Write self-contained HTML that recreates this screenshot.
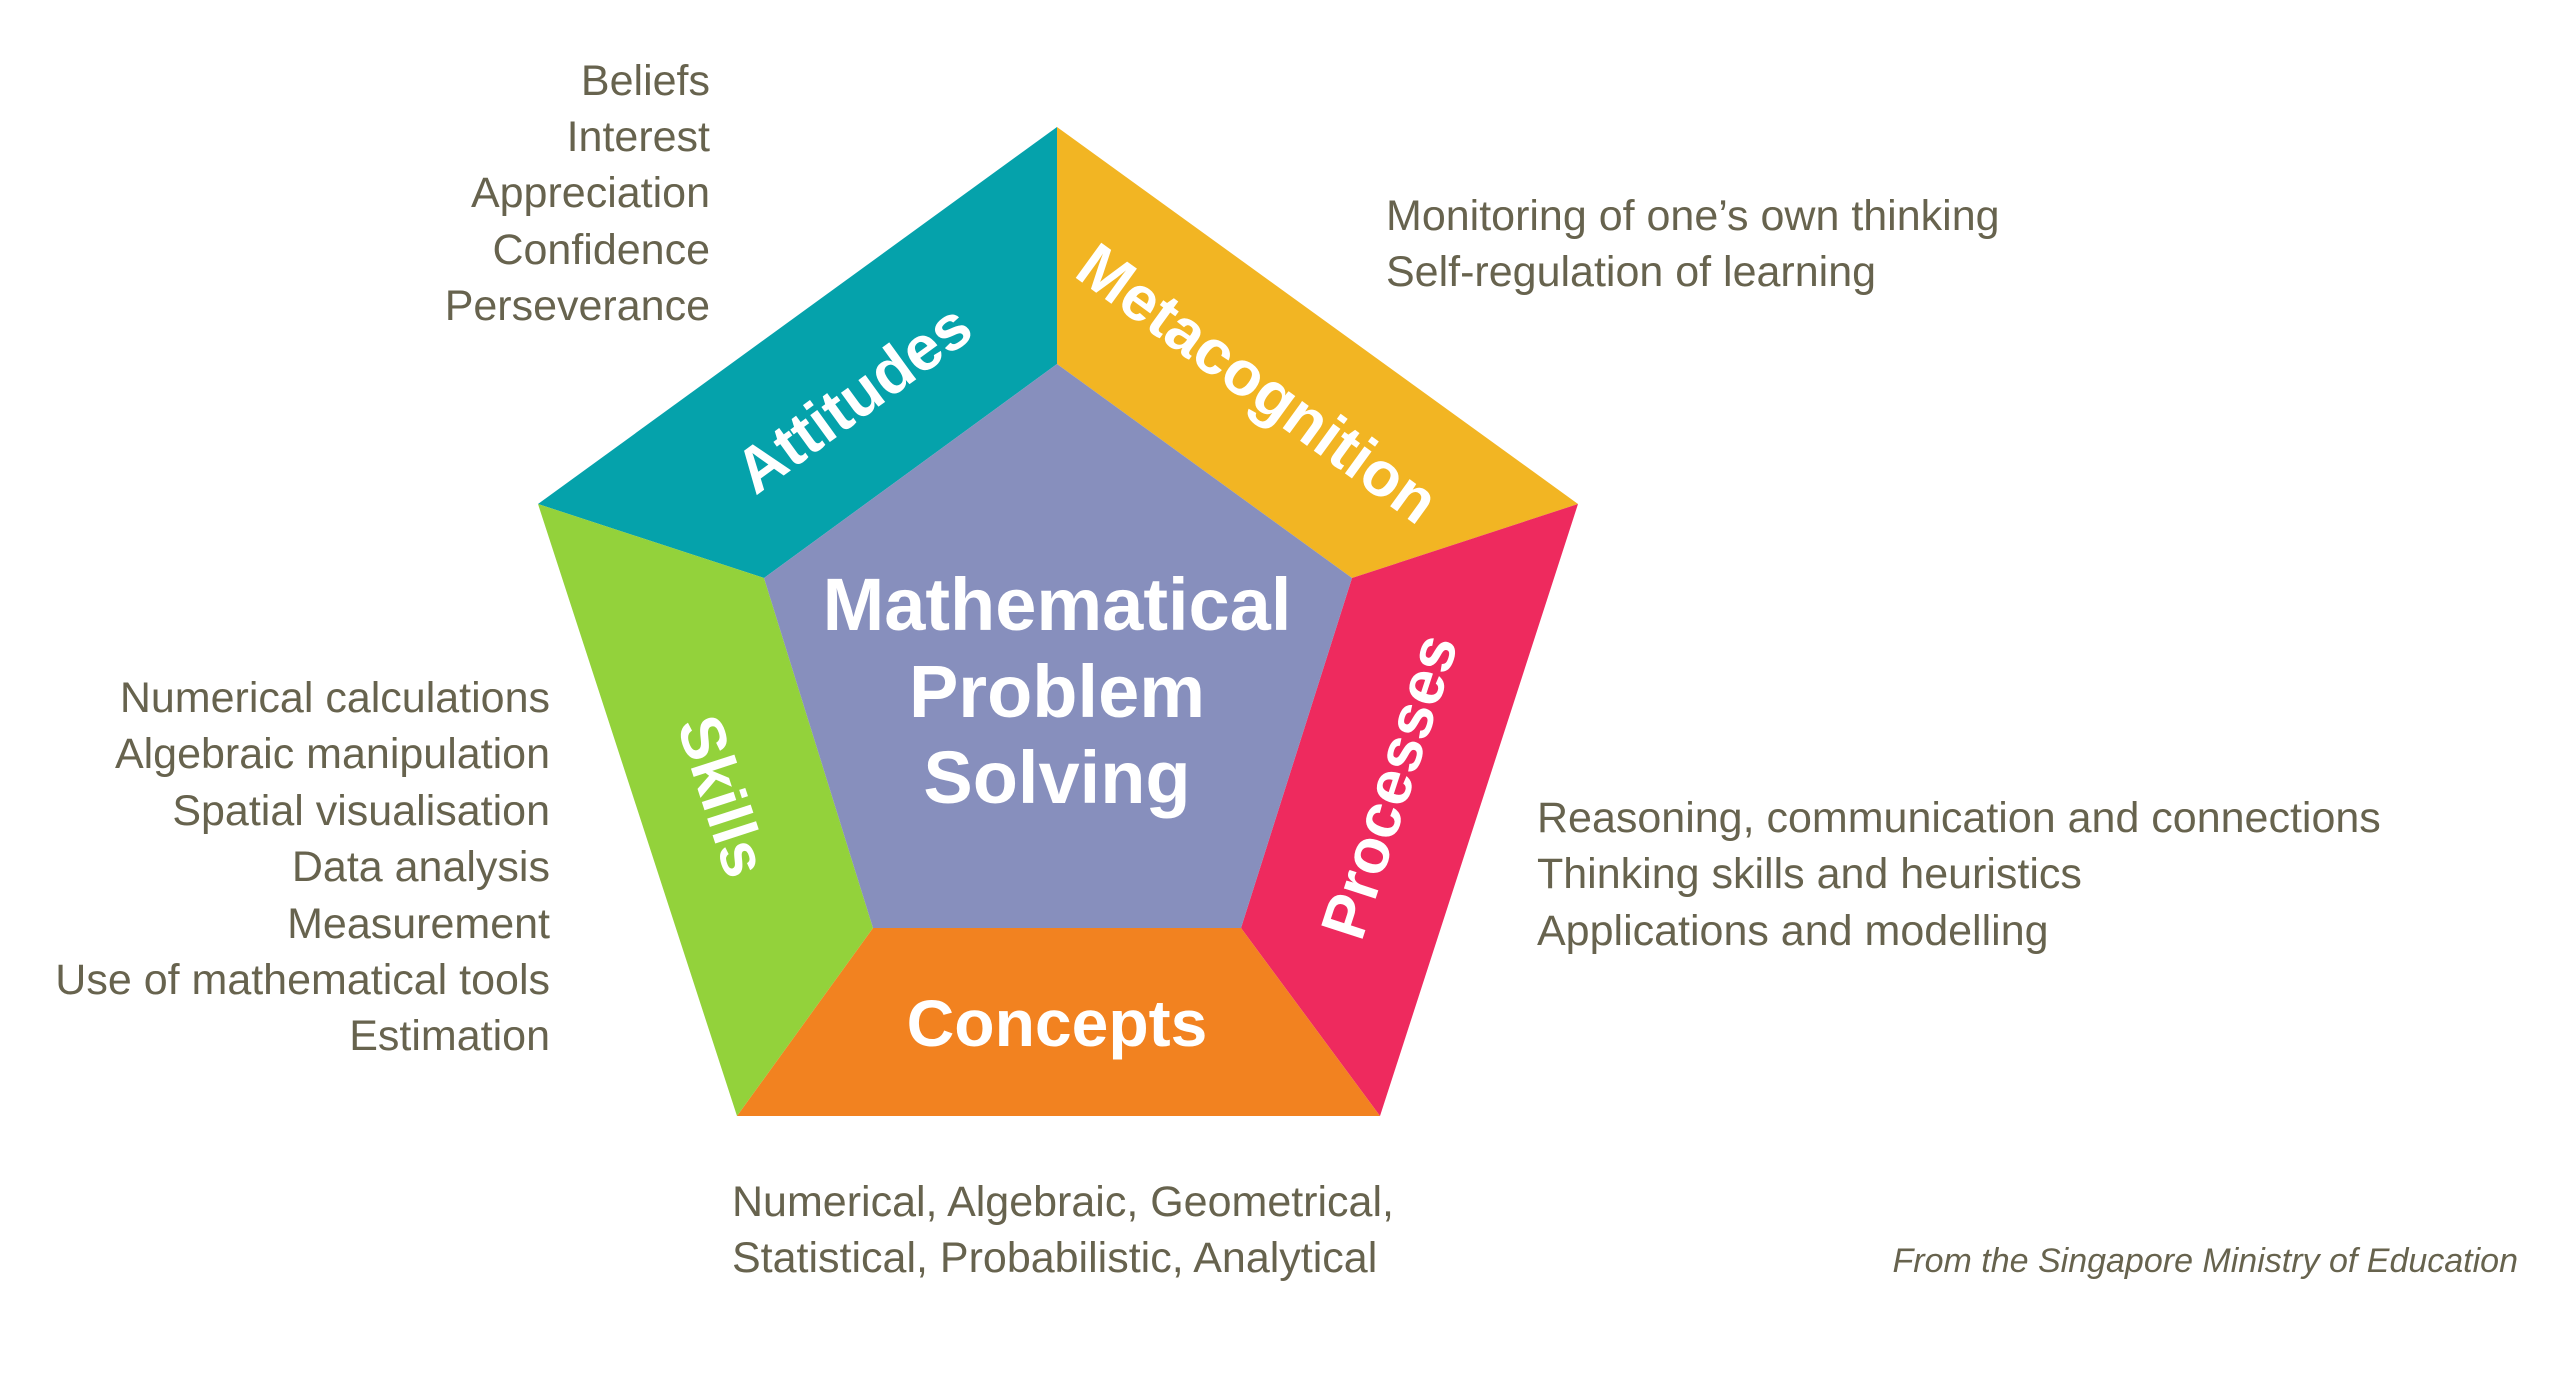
<!DOCTYPE html>
<html><head><meta charset="utf-8"><style>
html,body{margin:0;padding:0;background:#fff;}
svg{display:block;}
.t{font-family:"Liberation Sans",sans-serif;font-size:43px;fill:#67634e;}
.w{font-family:"Liberation Sans",sans-serif;font-weight:bold;fill:#fff;}
</style></head><body>
<svg width="2565" height="1390" viewBox="0 0 2565 1390" xmlns="http://www.w3.org/2000/svg">
<polygon points="1057,127 1057,364 764,578 538,504" fill="#05a2ab"/>
<polygon points="1057,127 1578,504 1352,578 1057,364" fill="#f2b523"/>
<polygon points="1578,504 1380,1116 1241,928 1352,578" fill="#ee2a5e"/>
<polygon points="1380,1116 737,1116 873,928 1241,928" fill="#f28220"/>
<polygon points="737,1116 538,504 764,578 873,928" fill="#93d23b"/>
<polygon points="1057,364 1352,578 1241,928 873,928 764,578" fill="#878fbd"/>

<text class="w" font-size="74" text-anchor="middle" x="1057" y="630">Mathematical</text>
<text class="w" font-size="74" text-anchor="middle" x="1057" y="717">Problem</text>
<text class="w" font-size="74" text-anchor="middle" x="1057" y="803">Solving</text>
<text class="w" font-size="66" text-anchor="middle" x="1057" y="1046">Concepts</text>
<text class="w" font-size="63" text-anchor="middle" transform="translate(853,398) rotate(-36)" y="22">Attitudes</text>
<text class="w" font-size="63" text-anchor="middle" transform="translate(1258,383) rotate(36)" y="22">Metacognition</text>
<text class="w" font-size="63" text-anchor="middle" transform="translate(723,796) rotate(72)" y="22">Skills</text>
<text class="w" font-size="63" text-anchor="middle" transform="translate(1389,786) rotate(-72)" y="22">Processes</text>

<g class="t" text-anchor="end">
<text x="710" y="95">Beliefs</text>
<text x="710" y="151">Interest</text>
<text x="710" y="207">Appreciation</text>
<text x="710" y="264">Confidence</text>
<text x="710" y="320">Perseverance</text>
</g>
<g class="t">
<text x="1386" y="230">Monitoring of one’s own thinking</text>
<text x="1386" y="286">Self-regulation of learning</text>
</g>
<g class="t" text-anchor="end">
<text x="550" y="712">Numerical calculations</text>
<text x="550" y="768">Algebraic manipulation</text>
<text x="550" y="825">Spatial visualisation</text>
<text x="550" y="881">Data analysis</text>
<text x="550" y="938">Measurement</text>
<text x="550" y="994">Use of mathematical tools</text>
<text x="550" y="1050">Estimation</text>
</g>
<g class="t">
<text x="1537" y="832">Reasoning, communication and connections</text>
<text x="1537" y="888">Thinking skills and heuristics</text>
<text x="1537" y="945">Applications and modelling</text>
</g>
<g class="t">
<text x="732" y="1216">Numerical, Algebraic, Geometrical,</text>
<text x="732" y="1272">Statistical, Probabilistic, Analytical</text>
</g>
<text x="2518" y="1272" text-anchor="end" font-family="Liberation Sans, sans-serif" font-style="italic" font-size="34" fill="#67634e">From the Singapore Ministry of Education</text>
</svg>
</body></html>
